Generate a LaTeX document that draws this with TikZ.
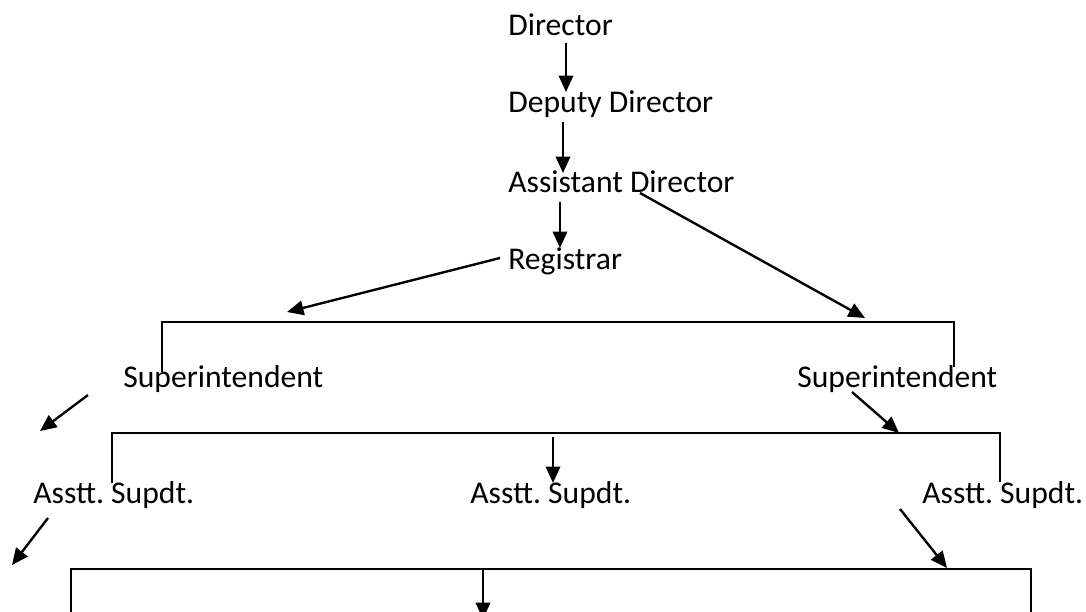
\documentclass[tikz,border=0pt]{standalone}
\usepackage{fontspec}
\setmainfont{Carlito}
\usepackage{tikz}
\usetikzlibrary{arrows.meta}
\frenchspacing

\begin{document}
\begin{tikzpicture}[
  x=0.02cm, y=-0.02cm,
  t/.style={anchor=base west, inner sep=0pt, font=\fontsize{18}{22}\selectfont},
  arrow/.style={-{Triangle[length=3.3mm, width=2.9mm]}, line width=1.35pt, black},
  brk/.style={line width=1pt, black}
]
  \useasboundingbox (0,0) rectangle (1086,612);
  \clip (0,0) rectangle (1086,612);

  \node[t] (dir) at (508,35) {Director};
  \node[t] (dep) at (508,112) {Deputy Director};
  \node[t] (asst) at (508,192) {Assistant Director};
  \node[t] (reg) at (508,269) {Registrar};
  \node[t] (supL) at (123,387) {Superintendent};
  \node[t] (supR) at (797,387) {Superintendent};
  \node[t] (asL) at (33,503) {Asstt. Supdt.};
  \node[t] (asM) at (470,503) {Asstt. Supdt.};
  \node[t] (asR) at (922,503) {Asstt. Supdt.};

  % brackets
  \draw[brk] (162,372) -- (162,322) -- (954,322) -- (954,367);
  \draw[brk] (112,483) -- (112,433) -- (1000,433) -- (1000,482);
  \draw[brk] (71,620) -- (71,569) -- (1031,569) -- (1031,620);

  \coordinate (b1l) at (287,312);
  \coordinate (b1r) at (865,318);
  \coordinate (outL1) at (40,431);
  \coordinate (b2r) at (899,433);
  \coordinate (b2m) at (553,437);
  \coordinate (outL2) at (12,565);
  \coordinate (b3r) at (947,568);
  \coordinate (b3m) at (483,569);
  \coordinate (down) at (483,619);

  \draw[arrow] ([shift={(58,8)}]dir.base west) -- ([shift={(58,-20)}]dep.base west);
  \draw[arrow] ([shift={(55,10)}]dep.base west) -- ([shift={(55,-19)}]asst.base west);
  \draw[arrow] ([shift={(52,10)}]asst.base west) -- ([shift={(52,-21)}]reg.base west);
  \draw[arrow] ([shift={(-8,-11)}]reg.base west) -- (b1l);
  \draw[arrow] ([shift={(132,1)}]asst.base west) -- (b1r);
  \draw[arrow] ([shift={(-35,8)}]supL.base west) -- (outL1);
  \draw[arrow] ([shift={(55,5)}]supR.base west) -- (b2r);
  \draw[arrow] (b2m) -- ([shift={(83,-20)}]asM.base west);
  \draw[arrow] ([shift={(15,15)}]asL.base west) -- (outL2);
  \draw[arrow] ([shift={(-22,6)}]asR.base west) -- (b3r);
  \draw[arrow] (b3m) -- (down);
\end{tikzpicture}
\end{document}
